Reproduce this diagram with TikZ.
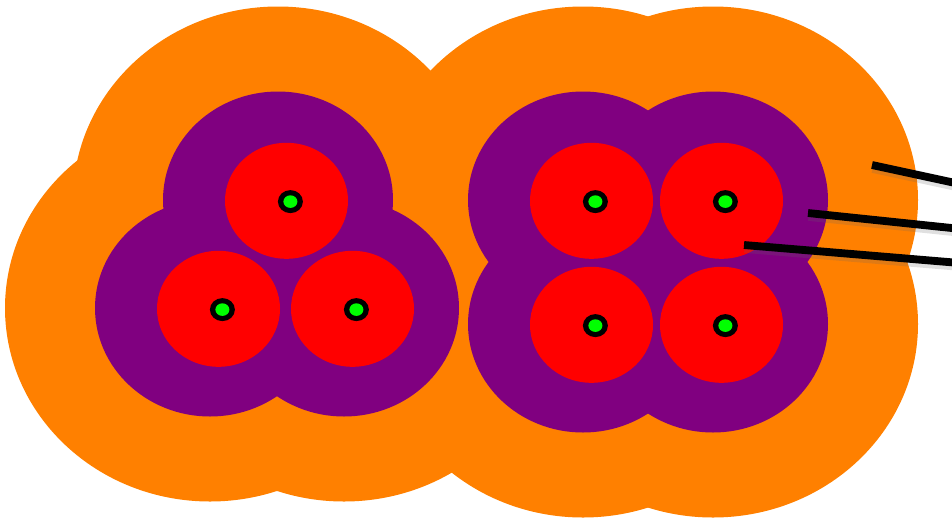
\documentclass[tikz,border=0pt]{standalone}
\usepackage{xcolor}
\usetikzlibrary{calc}
\definecolor{haloorange}{HTML}{FF8000}
\definecolor{shellpurple}{HTML}{800080}
\definecolor{corered}{HTML}{FF0000}
\definecolor{seedgreen}{HTML}{00FF00}

\begin{document}
\begin{tikzpicture}[
  x=0.03cm,y=-0.03cm,
  halo/.style={fill=haloorange},
  shell/.style={fill=shellpurple},
  core/.style={fill=corered},
  ring/.style={fill=black},
  seed/.style={fill=seedgreen},
  wire/.style={draw=black,line width=0.235cm},
  wireshade/.style={draw=black!60,line width=0.26cm,opacity=0.2}
]
\useasboundingbox (0,0) rectangle (952,519);
\clip (0,0) rectangle (952,519);

\foreach \cx/\cy in {278/200,210/308,344/308,583/200,713/200,583/324,713/324}
  \fill[halo] (\cx,\cy) ellipse [x radius=205,y radius=193.5];
\foreach \cx/\cy in {278/200,210/308,344/308,583/200,713/200,583/324,713/324}
  \fill[shell] (\cx,\cy) ellipse [x radius=115,y radius=108.5];
\foreach \cx/\cy in {278/200,210/308,344/308,583/200,713/200,583/324,713/324}{
  \fill[core] (\cx+8.5,\cy+0.8) ellipse [x radius=61.5,y radius=58];
  \fill[ring] (\cx+12.4,\cy+1.6) ellipse [x radius=12.5,y radius=11.5];
  \fill[seed] (\cx+12.4,\cy+1.6) ellipse [x radius=7,y radius=6.3];
}

\coordinate (probeAstart) at (872,165);
\coordinate (probeAend) at (990,190.5);
\coordinate (probeBstart) at (808,213);
\coordinate (probeBend) at (990,232);
\coordinate (probeCstart) at (744,245);
\coordinate (probeCend) at (990,265.5);
\foreach \p in {A,B,C}
  \draw[wireshade] ([shift={(0.5,3.5)}]probe\p start) -- ([shift={(0.5,3.5)}]probe\p end);
\foreach \p in {A,B,C}
  \draw[wire] (probe\p start) -- (probe\p end);
\end{tikzpicture}
\end{document}
